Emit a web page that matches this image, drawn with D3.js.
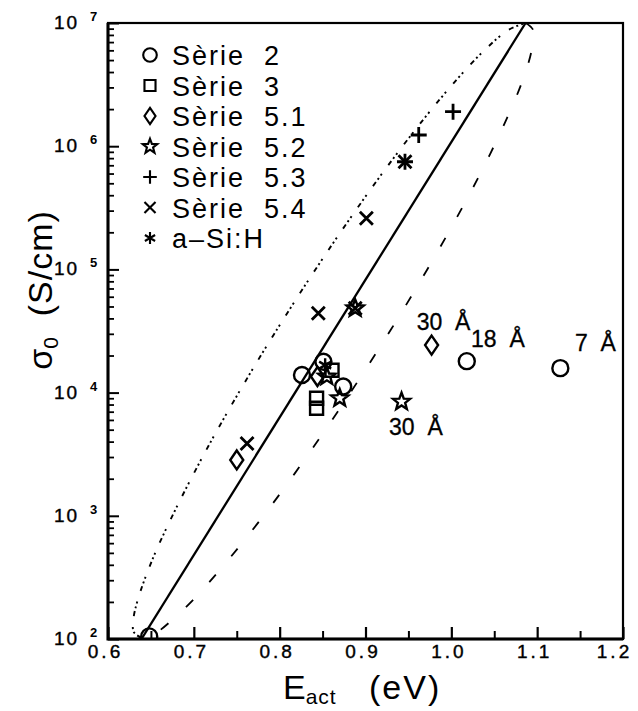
<!DOCTYPE html>
<html>
<head>
<meta charset="utf-8">
<script src="https://cdn.jsdelivr.net/npm/d3@7"></script>
<style>
  body { margin: 0; background: #fff; }
  svg text { font-family: "Liberation Sans", Arial, Helvetica, sans-serif; fill: #000; white-space: pre; }
</style>
</head>
<body>
<div id="chart"></div>
<script>
// ---------- Data (E_act in eV, sigma_0 in S/cm) ----------
const serie2 = [[0.648, 105], [0.826, 13900], [0.851, 17800], [0.874, 11200], [1.018, 18000], [1.127, 15800]];
const serie3 = [[0.861, 15200], [0.843, 9000], [0.843, 7460]];
const serie51 = [[0.750, 2840], [0.844, 13500], [0.977, 24300]];
const serie52 = [[0.855, 13500], [0.870, 9000], [0.888, 48300], [0.942, 8440]];
const serie53 = [[0.946, 748000], [0.962, 1233000], [1.002, 1905000]];
const serie54 = [[0.762, 3870], [0.845, 44100], [0.888, 48300], [0.901, 260000], [0.946, 748000]];
const aSiH = [[0.853, 16700]];

// Meyer-Neldel fit and its confidence band
const fitLine = [[0.639, 100], [1.0865, 1e7]];
const bandLeft = [
  [0.639, 102], [0.630, 114], [0.6295, 143], [0.6346, 207], [0.6515, 438], [0.6782, 1110],
  [0.7145, 3420], [0.7541, 10500], [0.7964, 32200], [0.8413, 98900], [0.8808, 252000],
  [0.9224, 641000], [0.9669, 1630000], [1.0058, 3440000], [1.0389, 6040000],
  [1.0663, 8770000], [1.0865, 1e7]
];
const bandRight = [
  [1.0865, 1e7], [1.0954, 8770000], [1.0936, 6040000], [1.0832, 3440000], [1.0638, 1630000],
  [1.0359, 641000], [1.0048, 252000], [0.9716, 98900], [0.9293, 32200], [0.8844, 10500],
  [0.8369, 3420], [0.7861, 1110], [0.7400, 438], [0.6989, 207], [0.6749, 143],
  [0.6572, 114], [0.639, 102]
];

const xMajor = [0.6, 0.7, 0.8, 0.9, 1.0, 1.1, 1.2];
const xMinor = [0.65, 0.75, 0.85, 0.95, 1.05, 1.15];
const yExponents = [2, 3, 4, 5, 6, 7];

const legendNames = ["Sèrie  2", "Sèrie  3", "Sèrie  5.1", "Sèrie  5.2", "Sèrie  5.3", "Sèrie  5.4", "a–Si:H"];
const legendSymbols = ["circle", "square", "diamond", "star", "plus", "cross", "asterisk"];
const seriesList = [serie2, serie3, serie51, serie52, serie53, serie54, aSiH];

const notes = [
  { text: "30  Å", x: 0.9597, y: 32200 },
  { text: "18  Å", x: 1.023, y: 23400 },
  { text: "7  Å", x: 1.144, y: 21800 },
  { text: "30  Å", x: 0.9274, y: 4530 }
];

// ---------- Dimensions ----------
const W = 638, H = 711;
const mLeft = 108, mRight = 623, mTop = 23, mBottom = 639;

const svg = d3.select("#chart").append("svg")
  .attr("width", W).attr("height", H);

const x = d3.scaleLinear().domain([0.6, 1.2]).range([mLeft, mRight]);
const y = d3.scaleLog().domain([100, 1e7]).range([mBottom, mTop]);

svg.append("defs").append("clipPath").attr("id", "plotClip")
  .append("rect").attr("x", mLeft).attr("y", mTop)
  .attr("width", mRight - mLeft).attr("height", mBottom - mTop);

// ---------- Axes ----------
const yMinor = [];
yExponents.slice(0, -1).forEach(e => {
  for (let k = 2; k <= 9; k++) yMinor.push(k * Math.pow(10, e));
});

svg.append("g").attr("transform", `translate(${mLeft},0)`)
  .call(d3.axisLeft(y).tickValues(yMinor).tickSize(-6).tickFormat(""))
  .call(g => g.select(".domain").remove())
  .selectAll("line").attr("stroke-width", 1.8);

svg.append("g").attr("transform", `translate(${mLeft},0)`)
  .call(d3.axisLeft(y).tickValues(yExponents.map(e => Math.pow(10, e))).tickSize(-11).tickFormat(""))
  .call(g => g.select(".domain").remove())
  .selectAll("line").attr("stroke-width", 2);

svg.append("g").attr("transform", `translate(0,${mBottom})`)
  .call(d3.axisBottom(x).tickValues(xMinor).tickSize(-8).tickFormat(""))
  .call(g => g.select(".domain").remove())
  .selectAll("line").attr("stroke-width", 2);

const xAxis = svg.append("g").attr("transform", `translate(0,${mBottom})`)
  .call(d3.axisBottom(x).tickValues(xMajor).tickSize(-12).tickPadding(6).tickFormat(d3.format(".1f")))
  .call(g => g.select(".domain").remove());
xAxis.selectAll("line").attr("stroke-width", 2.2);
xAxis.selectAll("text")
  .attr("font-size", 19).attr("letter-spacing", 3)
  .attr("dx", d => d === 1.2 ? -9 : -3)
  .attr("stroke", "#000").attr("stroke-width", 0.4)
  .attr("font-family", "Liberation Sans, Arial, sans-serif").attr("fill", "#000");

// frame
svg.append("rect")
  .attr("x", mLeft).attr("y", mTop)
  .attr("width", mRight - mLeft).attr("height", mBottom - mTop)
  .attr("fill", "none").attr("stroke", "#000").attr("stroke-width", 2.2);
svg.append("path")
  .attr("d", `M${mLeft},${mTop}V${mBottom}H${mRight}`)
  .attr("fill", "none").attr("stroke", "#000").attr("stroke-width", 3);

// y tick labels 10^n
const yLab = svg.append("g");
yExponents.forEach(e => {
  const yy = y(Math.pow(10, e));
  yLab.append("text").attr("x", 54).attr("y", yy + 6)
    .attr("font-size", 19).attr("letter-spacing", 2)
    .attr("stroke", "#000").attr("stroke-width", 0.4).text("10");
  yLab.append("text").attr("x", 90).attr("y", yy - 2)
    .attr("font-size", 13).attr("font-weight", "bold").text(e);
});

// axis titles
const xt = svg.append("text").attr("x", 283).attr("y", 699).attr("font-size", 34);
xt.append("tspan").text("E");
xt.append("tspan").attr("font-size", 21).attr("dy", 5).attr("letter-spacing", 1).text("act");
xt.append("tspan").attr("x", 369).attr("dy", -5).attr("letter-spacing", 2).text("(eV)");

const yt = svg.append("text")
  .attr("transform", "translate(52,290) rotate(-90)")
  .attr("text-anchor", "middle").attr("font-size", 34);
yt.append("tspan").text("σ");
yt.append("tspan").attr("font-size", 21).attr("dy", 6).text("0");
yt.append("tspan").attr("dy", -6).attr("letter-spacing", 1).text("  (S/cm)");

// ---------- Curves ----------
const plot = svg.append("g").attr("clip-path", "url(#plotClip)");
const line = d3.line().x(d => x(d[0])).y(d => y(d[1]));
const smooth = d3.line().x(d => x(d[0])).y(d => y(d[1])).curve(d3.curveCatmullRom);

plot.append("path").datum(fitLine).attr("d", line)
  .attr("fill", "none").attr("stroke", "#000").attr("stroke-width", 2.3);
plot.append("path").datum(bandLeft).attr("d", smooth)
  .attr("fill", "none").attr("stroke", "#000").attr("stroke-width", 1.9)
  .attr("stroke-dasharray", "5,3,2,3,2,11");
plot.append("path").datum(bandRight).attr("d", smooth)
  .attr("fill", "none").attr("stroke", "#000").attr("stroke-width", 1.8)
  .attr("stroke-dasharray", "10,24");

// ---------- Markers ----------
function symbolPath(type) {
  switch (type) {
    case "circle": return "M8,0A8,8 0 1,1 -8,0A8,8 0 1,1 8,0Z";
    case "square": return "M-6.5,-6.5H6.5V6.5H-6.5Z";
    case "diamond": return "M0,-9.5L6.5,0L0,9.5L-6.5,0Z";
    case "star": {
      const pts = [];
      for (let i = 0; i < 10; i++) {
        const r = i % 2 ? 3.8 : 9, a = -Math.PI / 2 + i * Math.PI / 5;
        pts.push([r * Math.cos(a), r * Math.sin(a)]);
      }
      return "M" + pts.map(p => p.join(",")).join("L") + "Z";
    }
    case "plus": return "M-8,0H8M0,-8V8";
    case "cross": return "M-6.5,-6.5L6.5,6.5M-6.5,6.5L6.5,-6.5";
    case "asterisk": return "M0,-7V7M-6,-3.5L6,3.5M-6,3.5L6,-3.5";
  }
}

seriesList.forEach((data, i) => {
  plot.append("g").selectAll("path")
    .data(data).enter().append("path")
    .attr("transform", d => `translate(${x(d[0])},${y(d[1])})`)
    .attr("d", symbolPath(legendSymbols[i]))
    .attr("fill", "none").attr("stroke", "#000")
    .attr("stroke-width", legendSymbols[i] === "plus" || legendSymbols[i] === "cross" ? 2.8 : 2.4);
});

// annotations
svg.append("g").selectAll("text")
  .data(notes).enter().append("text")
  .attr("x", d => x(d.x)).attr("y", d => y(d.y))
  .attr("font-size", 23).attr("stroke", "#000").attr("stroke-width", 0.3)
  .text(d => d.text);

// ---------- Legend ----------
const legend = svg.append("g");
legendNames.forEach((name, i) => {
  const cy = 55 + i * 30.5;
  legend.append("path")
    .attr("transform", `translate(150,${cy}) scale(0.85)`)
    .attr("d", symbolPath(legendSymbols[i]))
    .attr("fill", "none").attr("stroke", "#000").attr("stroke-width", 2.5);
  legend.append("text").attr("x", 172).attr("y", cy + 10)
    .attr("font-size", 27).attr("letter-spacing", 2).text(name);
});
</script>
</body>
</html>
